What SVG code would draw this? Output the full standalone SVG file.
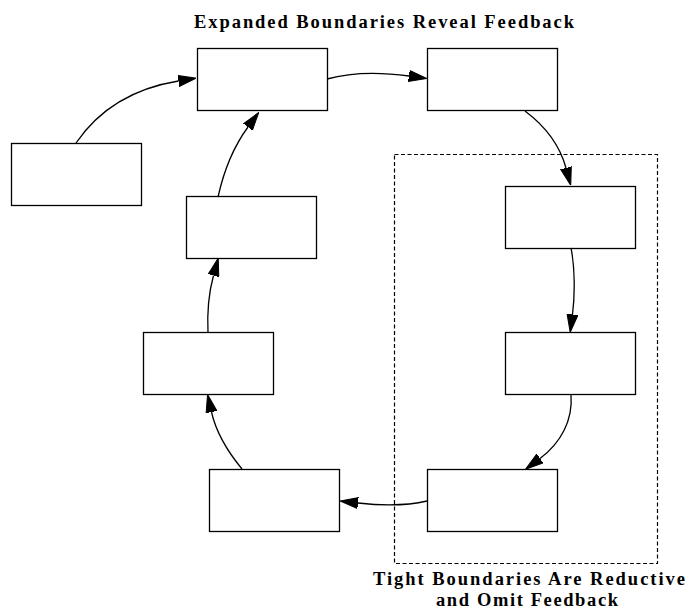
<svg xmlns="http://www.w3.org/2000/svg" width="688" height="612" viewBox="0 0 688 612">
<style>
.node rect{fill:#fff;stroke:#000;stroke-width:1.3}
.edge path{fill:none;stroke:#000;stroke-width:1.3}
.lbl{font-family:"Liberation Serif","Times New Roman",serif;font-weight:bold;font-size:18.5px;fill:#000}
.cluster rect{fill:none;stroke:#000;stroke-width:1.2;stroke-dasharray:4,2.5}
</style>
<defs>
<marker id="ah" viewBox="0 0 18 12" refX="0" refY="6" markerWidth="18" markerHeight="12" markerUnits="userSpaceOnUse" orient="auto">
<path d="M0,0.5 L18,6 L0,11.5 Z" fill="#000" stroke="#000" stroke-width="1"/>
</marker>
</defs>
<rect width="688" height="612" fill="#fff"/>
<text class="lbl" x="194" y="28" textLength="380" lengthAdjust="spacing">Expanded Boundaries Reveal Feedback</text>
<g id="cluster" class="cluster">
<rect x="394.5" y="154.5" width="263" height="409"/>
<text class="lbl" x="373" y="585" textLength="312" lengthAdjust="spacing">Tight Boundaries Are Reductive</text>
<text class="lbl" x="436" y="606" textLength="182" lengthAdjust="spacing">and Omit Feedback</text>
</g>
<g id="n1" class="node"><rect x="197.5" y="48.5" width="130" height="62"/></g>
<g id="n2" class="node"><rect x="427.5" y="48.5" width="130" height="62"/></g>
<g id="n3" class="node"><rect x="11.5" y="143.5" width="130" height="62"/></g>
<g id="n4" class="node"><rect x="186.5" y="196.5" width="130" height="62"/></g>
<g id="n5" class="node"><rect x="505.5" y="186.5" width="130" height="62"/></g>
<g id="n6" class="node"><rect x="143.5" y="332.5" width="130" height="62"/></g>
<g id="n7" class="node"><rect x="505.5" y="332.5" width="130" height="62"/></g>
<g id="n8" class="node"><rect x="209.5" y="469.5" width="130" height="62"/></g>
<g id="n9" class="node"><rect x="427.5" y="469.5" width="130" height="62"/></g>
<g id="edges" class="edge">
<path d="M76,143 C100,108 135,88 178.5,81" marker-end="url(#ah)"/>
<path d="M327,79 C352,72 380,72 409,76" marker-end="url(#ah)"/>
<path d="M525,111 C545,126 560,146 566,168" marker-end="url(#ah)"/>
<path d="M571,248 C575,268 575,295 572.5,314.5" marker-end="url(#ah)"/>
<path d="M571,395 C573,420 561,443 540,458.5" marker-end="url(#ah)"/>
<path d="M427,501 C410,505 385,506 358,503" marker-end="url(#ah)"/>
<path d="M242,469 C228,452 216,432 211.5,412" marker-end="url(#ah)"/>
<path d="M208,333 C207,312 209,292 213.5,275.5" marker-end="url(#ah)"/>
<path d="M218,197 C224,170 234,146 248,127" marker-end="url(#ah)"/>
</g>
</svg>
